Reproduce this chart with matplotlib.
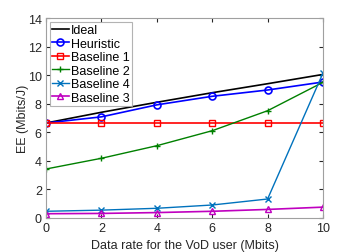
import matplotlib
matplotlib.use("Agg")
import matplotlib.pyplot as plt

plt.rcParams['font.family'] = ['Liberation Sans', 'DejaVu Sans']

x = [0, 2, 4, 6, 8, 10]
ideal = [6.65, 7.4, 8.1, 8.77, 9.4, 10.05]
heuristic = [6.65, 7.08, 7.92, 8.52, 8.96, 9.52]
baseline1 = [6.65, 6.65, 6.65, 6.65, 6.65, 6.65]
baseline2 = [3.43, 4.18, 5.06, 6.11, 7.51, 9.5]
baseline4 = [0.47, 0.55, 0.68, 0.91, 1.33, 10.15]
baseline3 = [0.3, 0.32, 0.38, 0.47, 0.6, 0.76]

fig = plt.figure(figsize=(3.57, 2.53), dpi=100)
ax = fig.add_axes([46/357, 1-219/253, (323-46)/357, (219-19)/253])

ax.plot(x, ideal, color='black', lw=1.2, label='Ideal')
ax.plot(x, heuristic, color='blue', lw=1.2, marker='o', ms=5, mfc='none', mew=1.2, label='Heuristic')
ax.plot(x, baseline1, color='red', lw=1.2, marker='s', ms=4, mfc='none', mew=1.0, label='Baseline 1')
ax.plot(x, baseline2, color=(0, 0.5, 0), lw=1.0, marker='+', ms=5, mew=1.0, label='Baseline 2')
ax.plot(x, baseline4, color=(0, 0.447, 0.741), lw=1.0, marker='x', ms=4, mew=1.0, label='Baseline 4')
ax.plot(x, baseline3, color=(0.75, 0, 0.75), lw=1.2, marker='^', ms=5, mfc='none', mew=1.0, label='Baseline 3')

ax.set_xlim(0, 10)
ax.set_ylim(0, 14)
ax.set_xticks([0, 2, 4, 6, 8, 10])
ax.set_yticks([0, 2, 4, 6, 8, 10, 12, 14])
ax.tick_params(direction='in', length=3, labelsize=9, colors='#262626', top=True, right=True, pad=3)
for s in ax.spines.values():
    s.set_color('#a0a0a0')
    s.set_linewidth(0.8)
ax.set_xlabel('Data rate for the VoD user (Mbits)', fontsize=9, color='#262626', labelpad=3.5)
ax.set_ylabel('EE (Mbits/J)', fontsize=9, color='#262626', labelpad=-1)

leg = ax.legend(loc='upper left', fontsize=9, frameon=True, fancybox=False,
                edgecolor='#a0a0a0', borderpad=0.2, labelspacing=0.12,
                handlelength=1.3, handletextpad=0.2, borderaxespad=0.3)
leg.get_frame().set_linewidth(0.8)

fig.savefig('out.png', dpi=100)
